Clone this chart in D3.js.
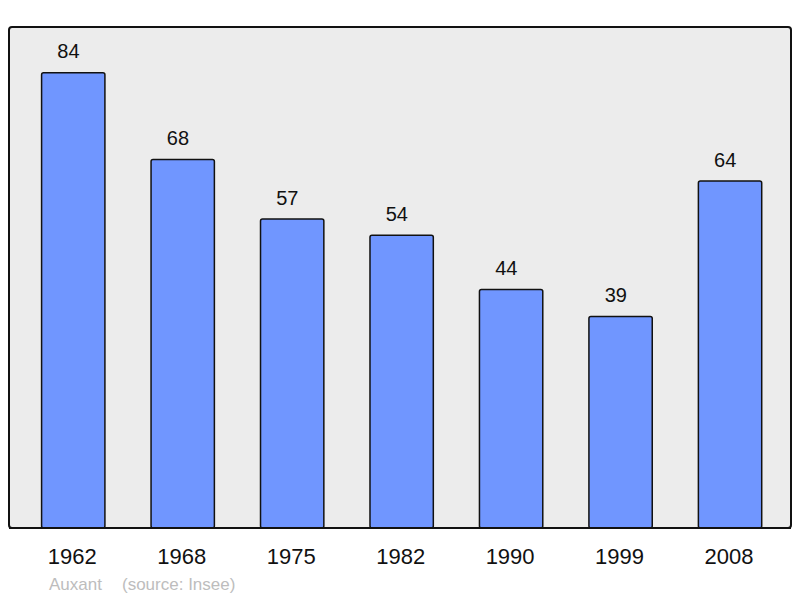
<!DOCTYPE html>
<html><head><meta charset="utf-8">
<script src="https://cdn.jsdelivr.net/npm/d3@7"></script>
<style>body{margin:0;background:#fff}svg{display:block;font-family:"Liberation Sans",Arial,sans-serif}</style>
</head><body>
<svg id="c" width="800" height="598"></svg>
<script>
const years = ["1962","1968","1975","1982","1990","1999","2008"];
const population = [84,68,57,54,44,39,64];
const commune = "Auxant";
const source = "(source: Insee)";

const svg = d3.select("#c");
svg.append("rect").attr("x",9).attr("y",27).attr("width",782).attr("height",501)
  .attr("rx",3).attr("fill","#ececec").attr("stroke","#111").attr("stroke-width",2);

const x = d3.scaleBand().domain(years).range([18.6,784.7]).paddingInner(0.4215).paddingOuter(0.21);
const y = d3.scaleLinear().domain([0,84]).range([528,72.7]);

svg.selectAll("rect.bar").data(population).join("rect").attr("class","bar")
  .attr("x",(d,i)=>x(years[i])).attr("width",x.bandwidth())
  .attr("y",d=>y(d)).attr("height",d=>y(0)-y(d))
  .attr("rx",2).attr("fill","#7096ff").attr("stroke","#111").attr("stroke-width",1.5);

svg.selectAll("text.val").data(population).join("text").attr("class","val")
  .attr("x",(d,i)=>x(years[i])+x.bandwidth()/2-4.8).attr("y",d=>y(d)-14.3)
  .attr("text-anchor","middle").attr("font-size",20).attr("fill","#111").text(d=>d);

svg.append("line").attr("x1",9).attr("x2",791).attr("y1",528).attr("y2",528).attr("stroke","#111").attr("stroke-width",2);

svg.selectAll("text.yr").data(years).join("text").attr("class","yr")
  .attr("x",d=>x(d)+x.bandwidth()/2-1).attr("y",564)
  .attr("text-anchor","middle").attr("font-size",22).attr("fill","#111").text(d=>d);

svg.append("text").attr("x",49).attr("y",590).attr("font-size",17).attr("fill","#bdbdbd").text(commune);
svg.append("text").attr("x",122).attr("y",590).attr("font-size",17).attr("fill","#bdbdbd").text(source);
</script>
</body></html>
